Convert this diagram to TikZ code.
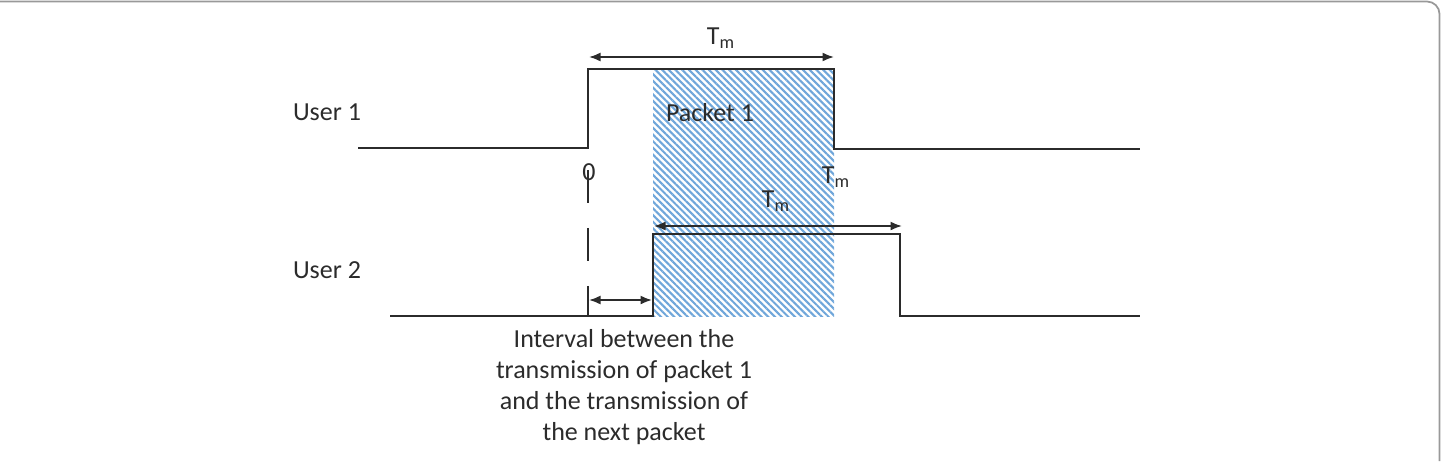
\documentclass[tikz,border=0pt]{standalone}
\usepackage{fontspec}
\setmainfont{Carlito}
\usepackage{tikz}
\usetikzlibrary{arrows.meta,patterns.meta}
\definecolor{hatchblue}{HTML}{6FA6DA}
\definecolor{sigline}{HTML}{2B2B2B}

\begin{document}
\begin{tikzpicture}[x=0.02cm,y=-0.02cm,
    sig/.style={draw=sigline, line width=1.5pt},
    dim/.style={draw=sigline, line width=1pt, {Latex[length=2.3mm,width=1.8mm]}-{Latex[length=2.3mm,width=1.8mm]}},
    lbl/.style={font=\fontsize{14.8}{17.6}\selectfont, text=sigline, inner sep=0pt}
  ]
  \useasboundingbox (0,0) rectangle (1442,461);
  \draw[gray!80, line width=1pt, rounded corners=0.25cm] (0,1.5) -- (1439.5,1.5) -- (1439.5,461);
  \fill[pattern={Lines[angle=-45,distance=2.7pt,line width=1.2pt]}, pattern color=hatchblue] (653,69) rectangle (834,316);
  \node[lbl] (user1) at (327,112) {User 1};
  \node[lbl] (user2) at (327,270) {User 2};
  \node[lbl] (pkt) at (710,113) {Packet 1};
  \node[lbl] (zero) at (589,172) {0};
  \node[lbl] (tmend) at (836,177) {T\textsubscript{m}};
  \node[lbl] (tmtop) at (721,38) {T\textsubscript{m}};
  \node[lbl] (tmmid) at (776,201) {T\textsubscript{m}};
  \node[lbl, align=center] (intv) at (624,387) {Interval between the\\transmission of packet 1\\and the transmission of\\the next packet};
  \coordinate (u1a) at (358,148);
  \coordinate (u1b) at (588,148);
  \coordinate (u1c) at (588,69);
  \coordinate (u1d) at (834,69);
  \coordinate (u1e) at (834,149);
  \coordinate (u1f) at (1140,149);
  \coordinate (u2a) at (390,316);
  \coordinate (u2b) at (653,316);
  \coordinate (u2c) at (653,234);
  \coordinate (u2d) at (900,234);
  \coordinate (u2e) at (900,316);
  \coordinate (u2f) at (1140,316);
  \coordinate (tm1l) at (589,57);
  \coordinate (tm1r) at (834,57);
  \coordinate (tm2l) at (654,226);
  \coordinate (tm2r) at (902,226);
  \coordinate (gapl) at (589,300);
  \coordinate (gapr) at (652,300);
  \coordinate (dsh) at (588,170);
  \coordinate (dshend) at (588,316);
  \draw[sig] (u1a) -- (u1b) -- (u1c) -- (u1d) -- (u1e) -- (u1f);
  \draw[sig] (u2a) -- (u2b) -- (u2c) -- (u2d) -- (u2e) -- (u2f);
  \draw[dim] (tm1l) -- (tm1r);
  \draw[dim] (tm2l) -- (tm2r);
  \draw[dim] (gapl) -- (gapr);
  \draw[draw=sigline, line width=1pt, dash pattern=on 0.66cm off 0.5cm] (dsh) -- (dshend);
\end{tikzpicture}
\end{document}
